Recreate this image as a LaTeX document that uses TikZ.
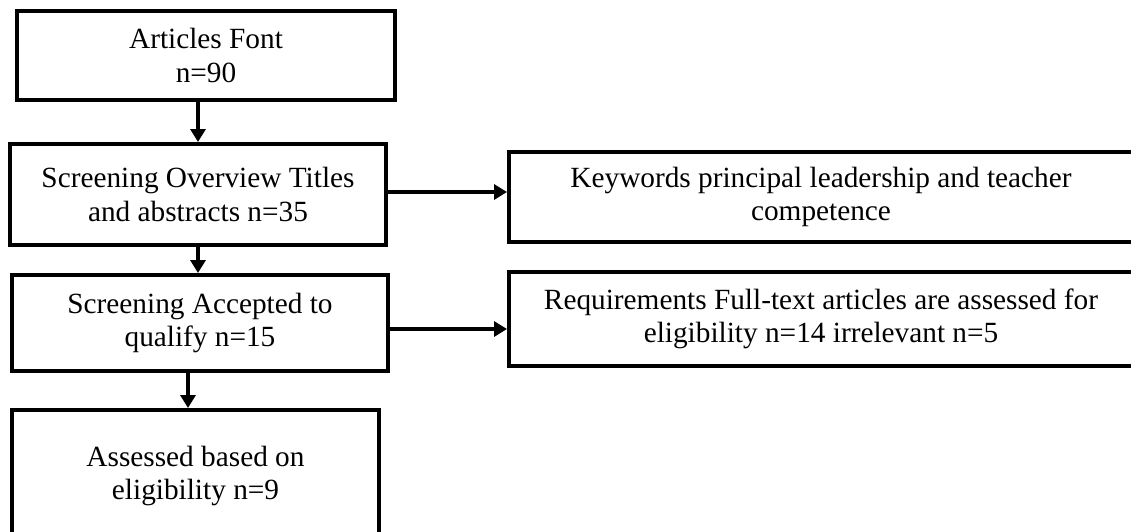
\documentclass[tikz,border=0pt]{standalone}
\usepackage{fontspec}
\setmainfont{Liberation Serif}
\usetikzlibrary{arrows.meta}
\begin{document}
\begin{tikzpicture}[x=1pt,y=-1pt,
  box/.style={draw=black, line width=4pt, fill=white, align=center,
    font=\fontsize{29.3}{33.5}\selectfont, inner sep=0pt},
  arr/.style={line width=4pt, -{Triangle[length=13pt,width=15pt]}}]
  \useasboundingbox (0,0) rectangle (1131,532);
  % left column
  \node[box, minimum width=378pt, minimum height=89pt] (a) at (206,55.5)
    {Articles Font\\n=90};
  \node[box, minimum width=376pt, minimum height=101pt] (b) at (198,194.5)
    {Screening Overview Titles\\and abstracts n=35};
  \node[box, minimum width=376pt, minimum height=96pt] (c) at (200,323)
    {Screening Accepted to\\qualify n=15};
  \node[box, minimum width=367pt, minimum height=132pt] (d) at (195.5,476)
    {Assessed based on\\eligibility n=9};
  % right column
  \node[box, minimum width=624pt, minimum height=90pt] (r1) at (821,197)
    {Keywords principal leadership and teacher\\competence};
  \node[box, minimum width=624pt, minimum height=94pt] (r2) at (821,319)
    {Requirements Full-text articles are assessed for\\eligibility n=14 irrelevant n=5};
  % connectors
  \draw[arr] (a.south -| b.north) -- (b.north);
  \draw[arr] (b.south) -- (c.north -| b.south);
  \coordinate (cd) at ([xshift=-12pt]c.south);
  \draw[arr] (cd) -- (d.north -| cd);
  \coordinate (br) at ([yshift=2.5pt]b.east);
  \draw[arr] (br) -- (r1.west |- br);
  \coordinate (cr) at ([yshift=-6pt]c.east);
  \draw[arr] (cr) -- (r2.west |- cr);
\end{tikzpicture}
\end{document}
